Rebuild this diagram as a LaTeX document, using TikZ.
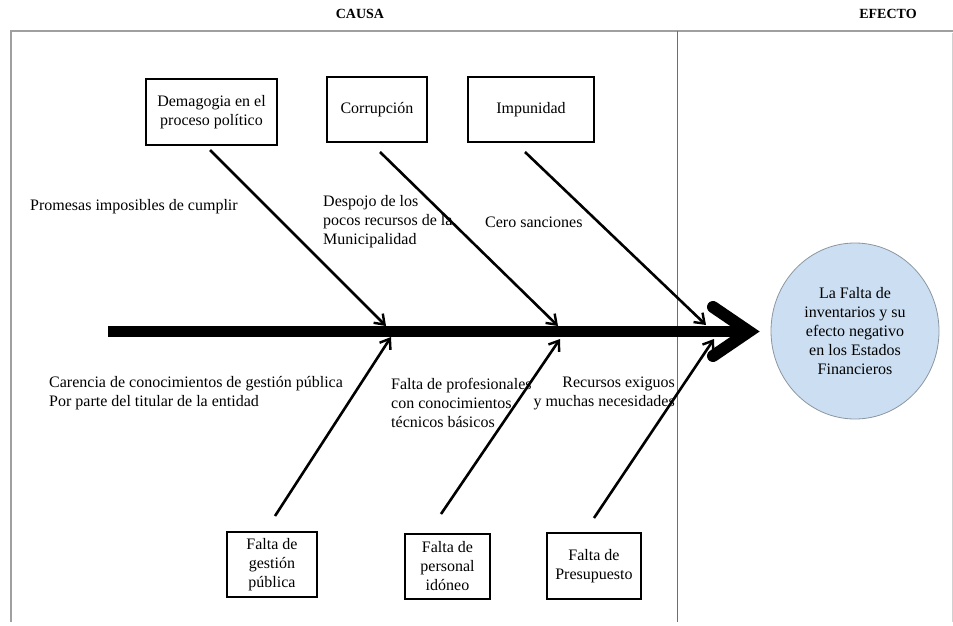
\documentclass[tikz,border=0pt]{standalone}
\usepackage{fontspec}
\setmainfont{Liberation Serif}
\usetikzlibrary{arrows.meta,shapes.geometric}
\definecolor{framegray}{RGB}{160,160,160}
\definecolor{divgray}{RGB}{110,110,110}
\definecolor{ellfill}{RGB}{204,223,242}
\definecolor{ellline}{RGB}{140,150,160}
\begin{document}
\begin{tikzpicture}[x=1pt,y=-1pt,
  txt/.style={font=\fontsize{16}{19}\selectfont, inner sep=0pt},
  causebox/.style={draw=black, line width=1.3pt, txt, align=center},
  bone/.style={line width=2.6pt, -{Straight Barb[length=9pt,width=13pt,line width=2.4pt]}},
  hdr/.style={font=\fontsize{14}{16}\selectfont\bfseries, inner sep=0pt}
]
\useasboundingbox (0,0) rectangle (953,626);
\fill[white] (0,0) rectangle (953,626);

% frame
\draw[framegray, line width=2pt] (10.5,31) -- (953,31);
\draw[framegray, line width=2pt] (10.5,30) -- (10.5,622);
\draw[divgray, line width=1pt] (677.5,31) -- (677.5,622);
\draw[framegray!50, line width=0.8pt] (952,33) -- (952,622);

% headers
\node[hdr] (causa) at (360,14) {CAUSA};
\node[hdr] (efecto) at (888,14) {EFECTO};

% effect ellipse
\node[ellipse, draw=ellline, fill=ellfill, line width=0.8pt,
      minimum width=168pt, minimum height=176pt, txt, align=center] (efe) at (855,331)
  {La Falta de\\inventarios y su\\efecto negativo\\en los Estados\\Financieros};

% spine
\coordinate (spL) at (108,331.5);
\coordinate (spR) at (746,331.5);
\draw[line width=11pt] (spL) -- (spR);
\draw[line width=12pt, line cap=round, line join=miter] (713,307) -- (749,331.5) -- (713,356);

% cause boxes
\node[causebox, minimum width=131pt, minimum height=66pt] (demag) at (211.5,112) {Demagogia en el\\proceso político};
\node[causebox, minimum width=100pt, minimum height=65pt] (corr) at (377,109.5) {Corrupción};
\node[causebox, minimum width=126pt, minimum height=65pt] (impu) at (531,109.5) {Impunidad};
\node[causebox, minimum width=90pt, minimum height=65pt] (gest) at (272,564.5) {Falta de\\gestión\\pública};
\node[causebox, minimum width=85pt, minimum height=65pt] (pers) at (447.5,566.5) {Falta de\\personal\\idóneo};
\node[causebox, minimum width=94pt, minimum height=66pt] (pres) at (594,566) {Falta de\\Presupuesto};

% bone coordinates
\coordinate (b1s) at (210,150);  \coordinate (b1e) at (386,326);
\coordinate (b2s) at (380,152);  \coordinate (b2e) at (558,326);
\coordinate (b3s) at (525,152);  \coordinate (b3e) at (706,325);
\coordinate (b4s) at (275,516);  \coordinate (b4e) at (391,337);
\coordinate (b5s) at (441,514);  \coordinate (b5e) at (560,339);
\coordinate (b6s) at (594,518);  \coordinate (b6e) at (714,339);
\draw[bone] (b1s) -- (b1e);
\draw[bone] (b2s) -- (b2e);
\draw[bone] (b3s) -- (b3e);
\draw[bone] (b4s) -- (b4e);
\draw[bone] (b5s) -- (b5e);
\draw[bone] (b6s) -- (b6e);

% sub-cause labels
\node[txt, anchor=west] (t1) at (30,207) {Promesas imposibles de cumplir};
\node[txt, anchor=west, align=left] (t2) at (323,222) {Despojo de los\\pocos recursos de la\\Municipalidad};
\node[txt, anchor=west] (t3) at (485,222) {Cero sanciones};
\node[txt, anchor=west, align=left] (t4) at (49,393.5) {Carencia de conocimientos de gestión pública\\Por parte del titular de la entidad};
\node[txt, anchor=west, align=left] (t5) at (391,403) {Falta de profesionales\\con conocimientos\\técnicos básicos};
\node[txt, anchor=east, align=right] (t6) at (675,393.5) {Recursos exiguos\\y muchas necesidades};
\end{tikzpicture}
\end{document}
